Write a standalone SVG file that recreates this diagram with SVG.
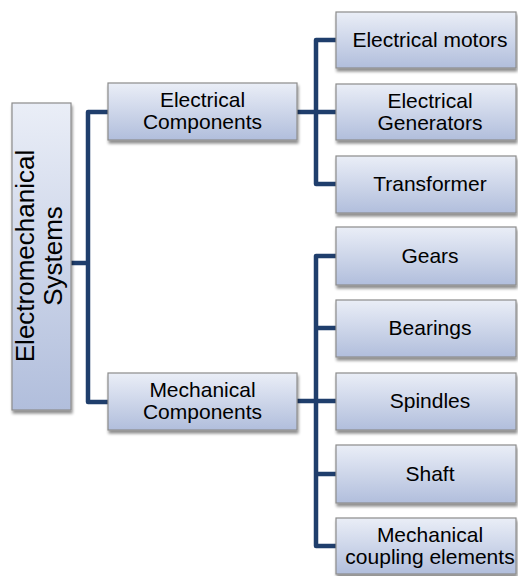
<svg xmlns="http://www.w3.org/2000/svg" width="518" height="576" viewBox="0 0 518 576">
<defs>
<linearGradient id="g" x1="0" y1="0" x2="0" y2="1">
<stop offset="0" stop-color="#eaeef7"/>
<stop offset="1" stop-color="#b1bedc"/>
</linearGradient>
<filter id="sh" x="-10%" y="-10%" width="130%" height="140%">
<feGaussianBlur in="SourceAlpha" stdDeviation="1.8"/>
<feOffset dx="1" dy="3" result="b"/>
<feComponentTransfer><feFuncA type="linear" slope="0.45"/></feComponentTransfer>
<feMerge><feMergeNode/><feMergeNode in="SourceGraphic"/></feMerge>
</filter>
</defs>
<style>
.box{fill:url(#g);stroke:#8c8c8c;stroke-width:1.2;filter:url(#sh)}
.t{font-family:"Liberation Sans",Arial,sans-serif;font-size:21px;fill:#000;text-anchor:middle}
.rt{font-family:"Liberation Sans",Arial,sans-serif;font-size:26px;fill:#000;text-anchor:middle}
.c{fill:none;stroke:#1f3e6c;stroke-width:4.5;stroke-linejoin:round}
</style>
<g id="connectors">
<path class="c" d="M71,263 H88 M108,112 H88 V402 H108"/>
<path class="c" d="M297,112 H337 M337,40 H316 V184 H337"/>
<path class="c" d="M297,401 H337 M337,256 H316 V546 H337 M316,328 H337 M316,474 H337"/>
</g>
<g id="root">
<rect class="box" x="12" y="103" width="59" height="307"/>
<text class="rt" transform="translate(34,256) rotate(-90)">Electromechanical</text>
<text class="rt" transform="translate(62,256) rotate(-90)">Systems</text>
</g>
<g id="electrical">
<rect class="box" x="108" y="83" width="189" height="57"/>
<text class="t" x="202.5" y="107">Electrical</text>
<text class="t" x="202.5" y="129">Components</text>
</g>
<g id="mechanical">
<rect class="box" x="108" y="373" width="189" height="57"/>
<text class="t" x="202.5" y="397">Mechanical</text>
<text class="t" x="202.5" y="419">Components</text>
</g>
<g id="motors">
<rect class="box" x="336" y="12" width="180" height="56"/>
<text class="t" x="430" y="47">Electrical motors</text>
</g>
<g id="generators">
<rect class="box" x="336" y="84" width="180" height="56"/>
<text class="t" x="430" y="108">Electrical</text>
<text class="t" x="430" y="130">Generators</text>
</g>
<g id="transformer">
<rect class="box" x="336" y="156" width="180" height="57"/>
<text class="t" x="430" y="191">Transformer</text>
</g>
<g id="gears">
<rect class="box" x="336" y="227" width="180" height="58"/>
<text class="t" x="430" y="263">Gears</text>
</g>
<g id="bearings">
<rect class="box" x="336" y="300" width="180" height="57"/>
<text class="t" x="430" y="335">Bearings</text>
</g>
<g id="spindles">
<rect class="box" x="336" y="373" width="180" height="57"/>
<text class="t" x="430" y="408">Spindles</text>
</g>
<g id="shaft">
<rect class="box" x="336" y="445" width="180" height="58"/>
<text class="t" x="430" y="481">Shaft</text>
</g>
<g id="coupling">
<rect class="box" x="336" y="518" width="180" height="56"/>
<text class="t" x="430" y="542">Mechanical</text>
<text class="t" x="430" y="564">coupling elements</text>
</g>
</svg>
